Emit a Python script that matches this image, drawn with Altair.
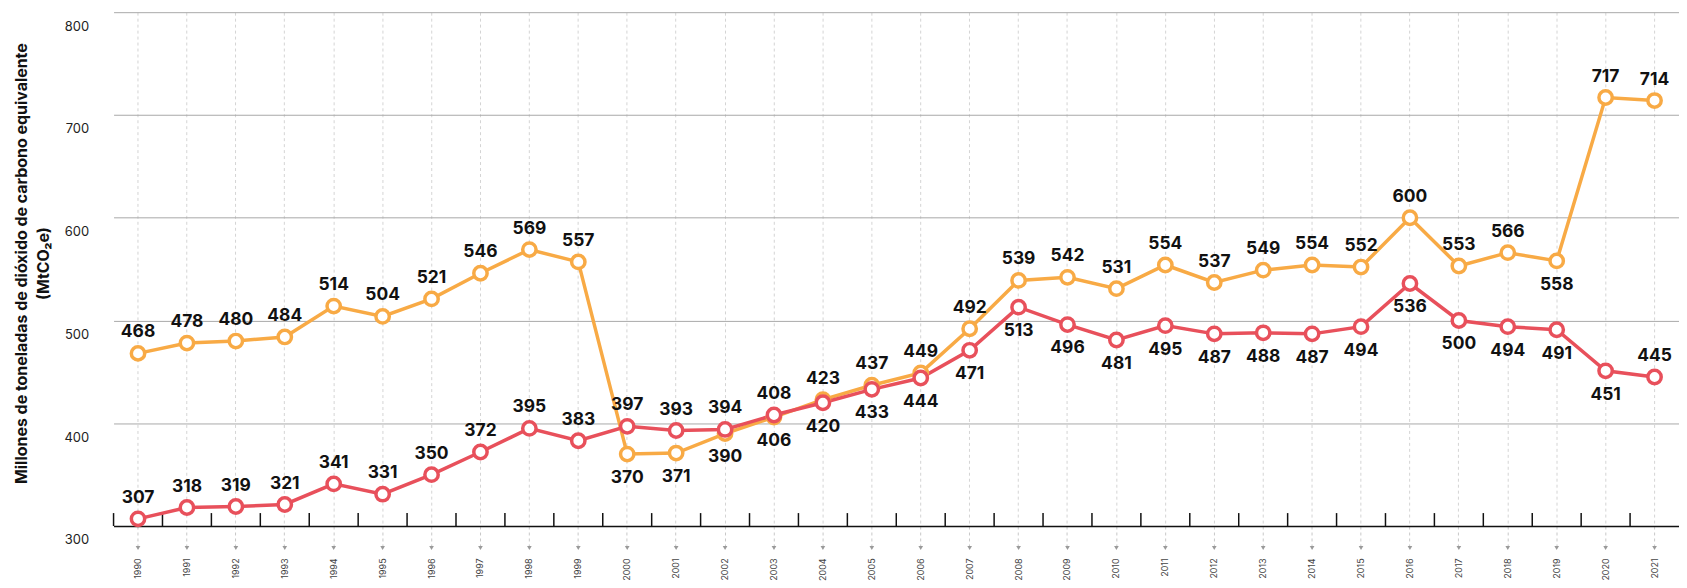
import altair as alt
import pandas as pd

# ---- data ----
anios = [str(a) for a in range(1990, 2022)]
serie_naranja = [468, 478, 480, 484, 514, 504, 521, 546, 569, 557,
                 370, 371, 390, 406, 423, 437, 449, 492, 539, 542,
                 531, 554, 537, 549, 554, 552, 600, 553, 566, 558,
                 717, 714]
serie_roja = [307, 318, 319, 321, 341, 331, 350, 372, 395, 383,
              397, 393, 394, 408, 420, 433, 444, 471, 513, 496,
              481, 495, 487, 488, 487, 494, 536, 500, 494, 491,
              451, 445]
# label placement (annotation: which labels sit under the point)
abajo_naranja = ["2000", "2001", "2002", "2003", "2019"]
arriba_roja = ["1990", "1991", "1992", "1993", "1994", "1995", "1996", "1997",
               "1998", "1999", "2000", "2001", "2002", "2003", "2021"]
y_ticks = [300, 400, 500, 600, 700, 800]

rows = []
for a, v in zip(anios, serie_naranja):
    rows.append({"anio": a, "valor": v, "serie": "A",
                 "pos": "abajo" if a in abajo_naranja else "arriba"})
for a, v in zip(anios, serie_roja):
    rows.append({"anio": a, "valor": v, "serie": "B",
                 "pos": "arriba" if a in arriba_roja else "abajo"})
df = pd.DataFrame(rows)
df_anios = pd.DataFrame({"anio": anios})

W, H = 1572, 516
FONT = "Inter"
NARANJA = "#F8AA45"
ROJO = "#E8505B"

x_axis = alt.Axis(
    title=None, labelAngle=270, labelFontSize=9, labelColor="#444", labelFont=FONT,
    labelPadding=12, ticks=True, tickSize=20, tickColor="#c8c8c8", tickDash=[3, 3],
    tickWidth=1, grid=True, gridColor="#d4d4d4", gridDash=[3, 3], gridWidth=1,
    domain=True, domainColor="#111", domainWidth=1.5,
)
y_axis = alt.Axis(
    values=y_ticks, grid=True, gridColor="#a8a8a8", gridWidth=1, domain=False,
    ticks=False, labelOffset=14, labelPadding=25, labelFontSize=13, labelColor="#222",
    labelFont=FONT,
    title=["Millones de toneladas de dióxido de carbono equivalente", "(MtCO₂e)"],
    titleFont=FONT, titleFontSize=16, titleFontWeight="bold", titleColor="#111",
    titleAngle=270, titleX=-87, titleY=252, titleAlign="center",
    titleBaseline="alphabetic", titleLineHeight=22,
)
x_scale = alt.Scale(type="band", paddingInner=0, paddingOuter=0, domain=anios)
y_scale = alt.Scale(domain=[300, 800], nice=False, zero=False)

X = alt.X("anio:O", scale=x_scale, axis=x_axis)
Y = alt.Y("valor:Q", scale=y_scale, axis=y_axis)

base = alt.Chart(df)

lines_a = base.transform_filter("datum.serie == 'A'").mark_line(strokeWidth=3.5, color=NARANJA).encode(x=X, y=Y)
lines_b = base.transform_filter("datum.serie == 'B'").mark_line(strokeWidth=3.5, color=ROJO).encode(x=X, y=Y)
pts_a = base.transform_filter("datum.serie == 'A'").mark_point(
    size=180, fill="white", stroke=NARANJA, strokeWidth=3.5, opacity=1, filled=False
).encode(x=X, y=Y)
pts_b = base.transform_filter("datum.serie == 'B'").mark_point(
    size=180, fill="white", stroke=ROJO, strokeWidth=3.5, opacity=1, filled=False
).encode(x=X, y=Y)

txt_up = base.transform_filter("datum.pos == 'arriba'").mark_text(
    font=FONT, fontSize=17.5, fontWeight="bold", color="#111", dy=-21
).encode(x=X, y=Y, text="valor:Q")
txt_dn = base.transform_filter("datum.pos == 'abajo'").mark_text(
    font=FONT, fontSize=17.5, fontWeight="bold", color="#111", dy=24
).encode(x=X, y=Y, text="valor:Q")

ticks_black = alt.Chart(df_anios).mark_rule(color="#111", strokeWidth=1.5).encode(
    x=alt.X("anio:O", scale=x_scale, axis=x_axis, bandPosition=0),
    y=alt.value(H - 13), y2=alt.value(H),
)
triangles = alt.Chart(df_anios).mark_point(
    shape="triangle-down", filled=True, color="#9a9a9a", size=22, opacity=1
).encode(x=X, y=alt.value(H + 22))

chart = alt.layer(
    ticks_black, triangles, lines_a, lines_b, pts_a, pts_b, txt_up, txt_dn
).properties(
    width=W, height=H,
    padding={"left": 106, "top": 3, "right": 0, "bottom": 56},
    autosize=alt.AutoSizeParams(type="none"),
).configure_view(stroke=None)

chart.save("out.html", embed_options={"renderer": "svg", "actions": False})
